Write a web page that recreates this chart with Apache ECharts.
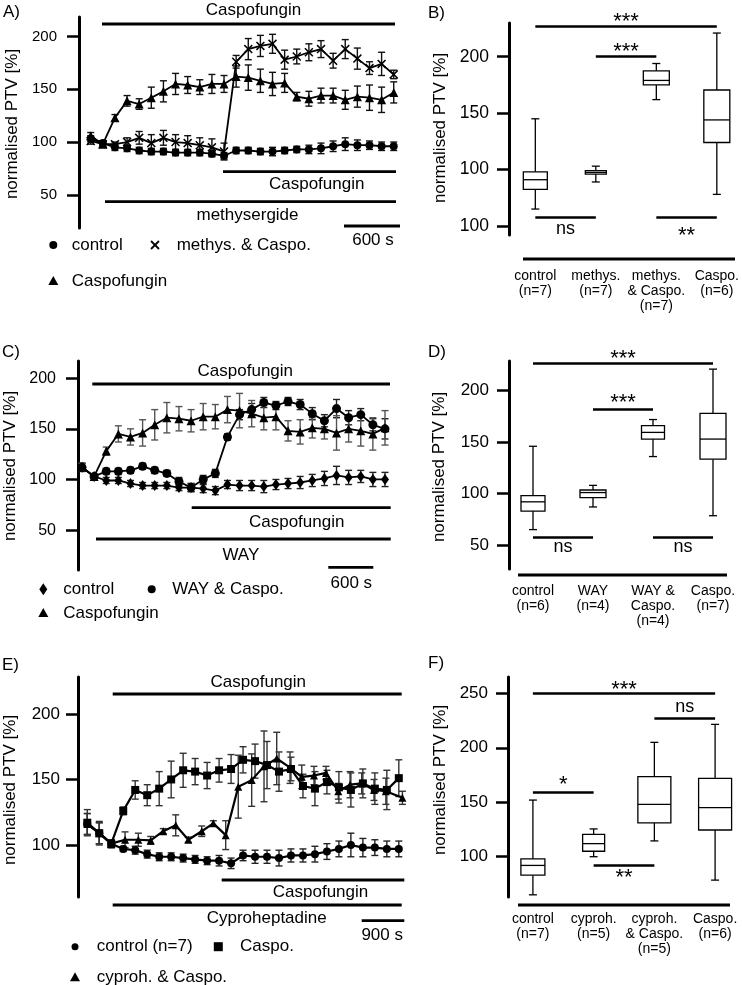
<!DOCTYPE html>
<html><head><meta charset="utf-8">
<script src="https://cdn.jsdelivr.net/npm/echarts@6/dist/echarts.min.js"></script>
<style>html,body{margin:0;padding:0;background:#fff}#c{width:742px;height:985px}</style>
</head><body><div id="c"></div>
<script>
// ---------------- Panel A (methysergide) ----------------
const aControl      = [103, 99, 95, 94, 92, 91, 91, 90, 90, 90, 89, 87, 92, 92, 91, 91, 92, 93, 93, 94, 96, 98, 97, 97, 96, 96];
const aControlErr   = [3, 2, 3, 3, 3, 3, 3, 3, 3, 3, 3, 3, 3, 3, 3, 4, 3, 3, 4, 5, 5, 6, 5, 4, 4, 4];
const aCaspo        = [106, 98, 123, 139, 136, 142, 148, 155, 154, 152, 155, 155, 162, 161, 158, 155, 156, 143, 141, 144, 144, 140, 143, 142, 140, 147];
const aCaspoErr     = [3, 2, 3, 5, 5, 10, 10, 10, 8, 7, 9, 8, 10, 12, 11, 11, 9, 4, 7, 7, 7, 9, 10, 12, 12, 10];
const aMethysCaspo  = [101, 98, 98, 100, 104, 99, 104, 100, 99, 97, 95, 91, 176, 188, 191, 193, 178, 181, 185, 188, 177, 188, 179, 170, 174, 164];
const aMethysCaspoErr = [3, 2, 2, 4, 6, 8, 7, 7, 7, 7, 8, 8, 6, 10, 10, 9, 9, 7, 8, 8, 7, 9, 10, 6, 11, 4];
const aTicks = [50, 100, 150, 200];

// ---------------- Panel B ----------------
const bCategories = ['control\n(n=7)', 'methys.\n(n=7)', 'methys.\n& Caspo.\n(n=7)', 'Caspo.\n(n=6)'];
// [min, Q1, median, Q3, max]
const bBoxes = [[65, 82.5, 91, 98, 145], [89, 96, 97.5, 99, 103], [162, 175, 179, 187.5, 194], [78, 124, 144, 170.5, 221]];
const bTicks = [50, 100, 150, 200];
const bTickLabels = ['100', '100', '150', '200'];

// ---------------- Panel C (WAY) ----------------
const cControl     = [112, 103, 99, 99, 96, 94, 94, 94, 92, 92, 91, 89, 95, 94, 94, 93, 95, 96, 97, 99, 101, 104, 102, 103, 100, 100];
const cControlErr  = [4, 2, 3, 3, 3, 3, 3, 3, 3, 4, 4, 4, 4, 5, 5, 6, 5, 5, 6, 6, 7, 9, 7, 6, 7, 7];
const cWayCaspo    = [112, 103, 108, 108, 109, 113, 109, 106, 98, 92, 100, 106, 142, 164, 169, 176, 173, 177, 174, 165, 158, 170, 161, 164, 154, 150];
const cWayCaspoErr = [4, 2, 3, 3, 3, 3, 3, 3, 4, 4, 4, 4, 3, 5, 6, 5, 4, 4, 5, 6, 6, 9, 7, 6, 6, 10];
const cCaspo       = [112, 103, 128, 145, 142, 146, 154, 161, 160, 158, 162, 162, 169, 168, 165, 161, 162, 148, 147, 151, 150, 146, 150, 148, 145, 151];
const cCaspoErr    = [4, 2, 4, 8, 8, 13, 15, 15, 12, 11, 13, 12, 13, 17, 13, 12, 13, 10, 12, 10, 10, 17, 13, 15, 16, 17];
const cTicks = [50, 100, 150, 200];

// ---------------- Panel D ----------------
const dCategories = ['control\n(n=6)', 'WAY\n(n=4)', 'WAY &\nCaspo.\n(n=4)', 'Caspo.\n(n=7)'];
const dBoxes = [[65, 83, 92, 98, 146], [87, 96, 101, 103.5, 108], [136, 153, 159.5, 166, 172], [78.5, 133.5, 153, 178, 221]];
const dTicks = [50, 100, 150, 200];

// ---------------- Panel E (cyproheptadine) ----------------
const eControl     = [116, 109, 101, 97, 96, 93, 91, 91, 90, 89, 88, 88, 86, 92, 91, 91, 90, 92, 92, 93, 95, 97, 100, 98, 98, 97, 97];
const eControlErr  = [8, 8, 3, 2, 3, 3, 3, 3, 3, 3, 3, 4, 4, 4, 5, 5, 6, 5, 5, 6, 6, 6, 9, 7, 6, 6, 6];
const eCaspo       = [117, 109, 101, 126, 142, 138, 143, 150, 157, 156, 153, 157, 158, 165, 164, 161, 156, 158, 145, 143, 148, 144, 142, 147, 143, 142, 151];
const eCaspoErr    = [10, 9, 3, 3, 7, 8, 13, 14, 13, 10, 10, 9, 11, 10, 13, 18, 15, 9, 9, 13, 9, 12, 13, 11, 12, 15, 14];
const eCyprohTime  = [0, 1, 2, 3.15, 4.26, 5.29, 6.34, 7.38, 8.43, 9.55, 10.52, 11.55, 12.6, 13.72, 14.75, 15.81, 16.92, 17.9, 18.92, 19.92, 20.95, 21.93, 22.9, 23.93, 24.92, 26.3];
const eCyproh      = [116, 109, 101, 104, 104, 103.5, 110.5, 115, 104, 110.5, 116.5, 107.5, 144.5, 149.5, 160, 166, 159, 152, 153, 155, 141, 146, 147, 142, 141, 136];
const eCyprohErr   = [8, 8, 3, 6, 5, 3, 2, 8, 2, 4, 2, 11, 24, 20, 27, 20, 12, 9, 7, 5, 6, 10, 8, 8, 10, 5];
const eTicks = [100, 150, 200];

// ---------------- Panel F ----------------
const fCategories = ['control\n(n=7)', 'cyproh.\n(n=5)', 'cyproh.\n& Caspo.\n(n=5)', 'Caspo.\n(n=6)'];
const fBoxes = [[65, 83, 92, 98, 152], [100, 105, 112, 120.5, 125.5], [114.5, 131, 148, 173.5, 205], [78.5, 124.5, 145, 172, 221.5]];
const fTicks = [100, 150, 200, 250];

// ---------------- significance annotations ----------------
const bSig = [
  {from: 0, to: 3, y: 227, text: '***', side: 'top', gap: 9},
  {from: 1, to: 2, y: 200, text: '***', side: 'top', gap: 10},
  {from: 0, to: 1, y: 58, text: 'ns', side: 'bottom', gap: 14},
  {from: 2, to: 3, y: 58, text: '**', side: 'bottom', gap: 14}
];
const dSig = [
  {from: 0, to: 3, y: 227, text: '***', side: 'top', gap: 9},
  {from: 1, to: 2, y: 182, text: '***', side: 'top', gap: 11},
  {from: 0, to: 1, y: 58, text: 'ns', side: 'bottom', gap: 12},
  {from: 2, to: 3, y: 58, text: 'ns', side: 'bottom', gap: 12}
];
const fSig = [
  {from: 0, to: 3, y: 250, text: '***', side: 'top', gap: 8},
  {from: 2, to: 3, y: 227, text: 'ns', side: 'top', gap: 10},
  {from: 0, to: 1, y: 159, text: '*', side: 'top', gap: 12},
  {from: 1, to: 2, y: 92, text: '**', side: 'bottom', gap: 8}
];

// ======================================================
const FF = '"Liberation Sans", Arial, Helvetica, sans-serif';
const chart = echarts.init(document.getElementById('c'), null, {renderer: 'canvas'});
const idx = arr => arr.map((_, i) => i);
const CROSS = 'path://M0,1.2L1.2,0L5,3.8L8.8,0L10,1.2L6.2,5L10,8.8L8.8,10L5,6.2L1.2,10L0,8.8L3.8,5Z';

function yAx(gi, min, max, ticks, fs, margin, labels) {
  return {
    gridIndex: gi, type: 'value', min: min, max: max,
    axisLine: {show: true, onZero: false, lineStyle: {color: '#000', width: 3}},
    axisTick: {show: true, length: 12, customValues: ticks, lineStyle: {color: '#000', width: 2.5}},
    axisLabel: {customValues: ticks, fontSize: fs, fontFamily: FF, color: '#000', margin: margin,
      formatter: v => labels ? labels[ticks.indexOf(v)] : String(v)},
    splitLine: {show: false}
  };
}
function xLine(gi, min, max) {
  return {gridIndex: gi, type: 'value', min: min, max: max, show: false};
}
function xCat(gi, min, max, cats, margin) {
  return {
    gridIndex: gi, type: 'value', min: min, max: max,
    axisLine: {show: false}, axisTick: {show: false}, splitLine: {show: false},
    axisLabel: {customValues: [0, 1, 2, 3], formatter: v => cats[Math.round(v)],
      fontSize: 14, lineHeight: 15, margin: margin, color: '#000', fontFamily: FF}
  };
}
function lineS(gi, xs, ys, symbol, size, lw) {
  return {type: 'line', xAxisIndex: gi, yAxisIndex: gi, data: xs.map((x, i) => [x, ys[i]]),
    symbol: symbol, symbolSize: size, showSymbol: true, silent: true, animation: false, z: 5,
    lineStyle: {color: '#000', width: lw}, itemStyle: {color: '#000', borderWidth: 0}};
}
function errS(gi, xs, ys, es, color) {
  return {type: 'custom', xAxisIndex: gi, yAxisIndex: gi, silent: true, animation: false, z: 3,
    data: xs.map((x, i) => [x, ys[i] - es[i], ys[i] + es[i]]),
    encode: {x: 0, y: [1, 2]},
    renderItem: function (params, api) {
      const x = api.value(0);
      const lo = api.coord([x, api.value(1)]), hi = api.coord([x, api.value(2)]);
      const w = 3.5, st = {stroke: color, lineWidth: 1.4};
      return {type: 'group', children: [
        {type: 'line', shape: {x1: lo[0], y1: lo[1], x2: hi[0], y2: hi[1]}, style: st},
        {type: 'line', shape: {x1: lo[0] - w, y1: lo[1], x2: lo[0] + w, y2: lo[1]}, style: st},
        {type: 'line', shape: {x1: hi[0] - w, y1: hi[1], x2: hi[0] + w, y2: hi[1]}, style: st}
      ]};
    }};
}
function sigData(sig) {
  const LH = 10;
  return sig.map(s => {
    const ast = s.text.indexOf('*') >= 0;
    const fs = ast ? 22 : 18;
    const shift = ast ? 4.9 : -1.5;   // glyph centre relative to em-middle
    let d;
    if (s.side === 'top') d = s.gap - LH / 2 - shift;
    else d = s.gap - LH / 2 + shift;
    return [{coord: [s.from, s.y], label: {show: true, formatter: s.text,
        position: s.side === 'top' ? 'insideMiddleTop' : 'insideMiddleBottom', distance: d,
        fontSize: fs, lineHeight: LH, color: '#000', fontFamily: FF}},
      {coord: [s.to, s.y]}];
  });
}
function boxS(gi, boxes, widths, sig) {
  return {type: 'custom', xAxisIndex: gi, yAxisIndex: gi, silent: true, animation: false, z: 4,
    data: boxes.map((b, i) => [i].concat(b)),
    encode: {x: 0, y: [1, 2, 3, 4, 5]},
    renderItem: function (params, api) {
      const x = api.value(0);
      const pMin = api.coord([x, api.value(1)]), pQ1 = api.coord([x, api.value(2)]),
            pMed = api.coord([x, api.value(3)]), pQ3 = api.coord([x, api.value(4)]),
            pMax = api.coord([x, api.value(5)]);
      const cx = pMed[0], w = widths[params.dataIndex], hw = w / 2, cap = 4;
      const st = {stroke: '#000', lineWidth: 1.3};
      return {type: 'group', children: [
        {type: 'line', shape: {x1: cx, y1: pMax[1], x2: cx, y2: pQ3[1]}, style: st},
        {type: 'line', shape: {x1: cx, y1: pQ1[1], x2: cx, y2: pMin[1]}, style: st},
        {type: 'line', shape: {x1: cx - cap, y1: pMax[1], x2: cx + cap, y2: pMax[1]}, style: st},
        {type: 'line', shape: {x1: cx - cap, y1: pMin[1], x2: cx + cap, y2: pMin[1]}, style: st},
        {type: 'rect', shape: {x: cx - hw, y: pQ3[1], width: w, height: pQ1[1] - pQ3[1]},
          style: {stroke: '#000', lineWidth: 1.3, fill: '#fff'}},
        {type: 'line', shape: {x1: cx - hw, y1: pMed[1], x2: cx + hw, y2: pMed[1]}, style: st}
      ]};
    },
    markLine: {silent: true, animation: false, symbol: ['none', 'none'],
      lineStyle: {color: '#000', width: 2.6, type: 'solid'}, data: sigData(sig)}
  };
}

// ---------- graphic helpers ----------
function T(text, x, y, o) {
  o = o || {};
  return {type: 'text', x: x, y: y, rotation: o.rot || 0, silent: true,
    style: {text: text, fontSize: o.fs || 17, fontFamily: FF, fill: '#000',
      align: o.align || 'center', verticalAlign: 'middle'}};
}
function L(x1, y1, x2, y2, w) {
  return {type: 'line', silent: true, shape: {x1: x1, y1: y1, x2: x2, y2: y2}, style: {stroke: '#000', lineWidth: w || 2.8}};
}
function dot(x, y, r) { return {type: 'circle', silent: true, shape: {cx: x, cy: y, r: r || 4}, style: {fill: '#000'}}; }
function tri(x, y, s) { s = s || 5; return {type: 'polygon', silent: true, shape: {points: [[x, y - s], [x + s, y + s * 0.8], [x - s, y + s * 0.8]]}, style: {fill: '#000'}}; }
function dia(x, y) { return {type: 'polygon', silent: true, shape: {points: [[x, y - 6], [x + 4, y], [x, y + 6], [x - 4, y]]}, style: {fill: '#000'}}; }
function sq(x, y) { return {type: 'rect', silent: true, shape: {x: x - 4.5, y: y - 4.5, width: 9, height: 9}, style: {fill: '#000'}}; }
function crs(x, y) { return {type: 'group', silent: true, children: [L(x - 4, y - 4, x + 4, y + 4, 1.8), L(x - 4, y + 4, x + 4, y - 4, 1.8)]}; }

const graphics = [
  // panel letters
  T('A)', 3, 12, {align: 'left'}), T('B)', 428, 13, {align: 'left'}),
  T('C)', 2, 352, {align: 'left'}), T('D)', 428, 352, {align: 'left'}),
  T('E)', 2, 665, {align: 'left'}), T('F)', 428, 663, {align: 'left'}),
  // axis names
  T('normalised PTV [%]', 12, 124, {rot: Math.PI / 2}),
  T('normalised PTV [%]', 440, 128, {rot: Math.PI / 2}),
  T('normalised PTV [%]', 10, 466, {rot: Math.PI / 2}),
  T('normalised PTV [%]', 439, 467, {rot: Math.PI / 2}),
  T('normalised PTV [%]', 10, 790, {rot: Math.PI / 2}),
  T('normalised PTV [%]', 440, 780, {rot: Math.PI / 2}),
  // panel A annotations
  T('Caspofungin', 253.5, 10), L(102, 24, 395, 24),
  L(223, 171.7, 396, 171.7), T('Caspofungin', 316.7, 184),
  L(105, 201.7, 396, 201.7), T('methysergide', 247.5, 215.5),
  L(344, 226, 400, 226), T('600 s', 373, 240.5),
  dot(53.3, 245), T('control', 71.7, 245, {align: 'left'}),
  crs(155, 245), T('methys. & Caspo.', 176.7, 245, {align: 'left'}),
  tri(53.3, 281), T('Caspofungin', 71.7, 281, {align: 'left'}),
  // panel B
  L(523, 259, 735, 259),
  // panel C annotations
  T('Caspofungin', 245.3, 371), L(92.3, 384, 390, 384),
  L(191.7, 507.7, 390.7, 507.7), T('Caspofungin', 296.7, 522.3),
  L(96, 539, 390.7, 539), T('WAY', 240.8, 555),
  L(328.3, 567.3, 373.3, 567.3), T('600 s', 351.3, 583.3),
  dia(43.3, 589.3), T('control', 63.3, 589.3, {align: 'left'}),
  dot(151.7, 589.3), T('WAY & Caspo.', 172.3, 589.3, {align: 'left'}),
  tri(43.3, 613), T('Caspofungin', 63.3, 613, {align: 'left'}),
  // panel D
  L(518, 575, 727, 575),
  // panel E annotations
  T('Caspofungin', 258.3, 682.7), L(112.7, 694, 401.7, 694),
  L(221.7, 880, 404.3, 880), T('Caspofungin', 320.5, 892.3),
  L(112.7, 905, 401.7, 905), T('Cyproheptadine', 266.7, 918.3),
  L(361.7, 920.7, 404.3, 920.7), T('900 s', 382.2, 935),
  dot(75, 946.7, 3.5), T('control (n=7)', 96.7, 946.7, {align: 'left'}),
  sq(218.3, 946.7), T('Caspo.', 240, 946.7, {align: 'left'}),
  tri(75, 977.3), T('cyproh. & Caspo.', 96.7, 977.3, {align: 'left'}),
  // panel F
  L(518, 905, 730, 905)
];

const option = {
  backgroundColor: '#fff',
  animation: false,
  grid: [
    {left: 79, top: 17, width: 326, height: 211},
    {left: 509, top: 23, width: 231, height: 212},
    {left: 78, top: 361, width: 319, height: 209},
    {left: 509, top: 361, width: 231, height: 208},
    {left: 78, top: 677, width: 328, height: 220},
    {left: 508, top: 677, width: 232, height: 220}
  ],
  xAxis: [
    xLine(0, -0.965, 25.93),
    xCat(1, -0.435, 3.29, bCategories, 34),
    xLine(2, -0.33, 25.99),
    xCat(3, -0.4, 3.45, dCategories, 15),
    xLine(4, -0.776, 26.6),
    xCat(5, -0.41, 3.41, fCategories, 15)
  ],
  yAxis: [
    yAx(0, 18.6, 218.4, aTicks, 15, 22),
    yAx(1, 42, 229.9, bTicks, 17.5, 20, bTickLabels),
    yAx(2, 10.6, 217, cTicks, 16, 22),
    yAx(3, 26.7, 228.9, dTicks, 17, 20),
    yAx(4, 60.3, 228.2, eTicks, 17, 18),
    yAx(5, 63, 265, fTicks, 17, 20)
  ],
  series: [
    // A
    errS(0, idx(aControl), aControl, aControlErr, '#111'),
    errS(0, idx(aCaspo), aCaspo, aCaspoErr, '#111'),
    errS(0, idx(aMethysCaspo), aMethysCaspo, aMethysCaspoErr, '#111'),
    lineS(0, idx(aControl), aControl, 'circle', 8, 1.8),
    lineS(0, idx(aCaspo), aCaspo, 'triangle', 9, 1.8),
    lineS(0, idx(aMethysCaspo), aMethysCaspo, CROSS, 9, 1.8),
    // B
    boxS(1, bBoxes, [24, 21, 26, 26], bSig),
    // C
    errS(2, idx(cControl), cControl, cControlErr, '#222'),
    errS(2, idx(cWayCaspo), cWayCaspo, cWayCaspoErr, '#222'),
    errS(2, idx(cCaspo), cCaspo, cCaspoErr, '#555'),
    lineS(2, idx(cControl), cControl, 'diamond', [8, 11], 1.8),
    lineS(2, idx(cWayCaspo), cWayCaspo, 'circle', 9, 1.8),
    lineS(2, idx(cCaspo), cCaspo, 'triangle', 9, 1.8),
    // D
    boxS(3, dBoxes, [24, 26, 23, 26], dSig),
    // E
    errS(4, idx(eControl), eControl, eControlErr, '#222'),
    errS(4, idx(eCaspo), eCaspo, eCaspoErr, '#333'),
    errS(4, eCyprohTime, eCyproh, eCyprohErr, '#333'),
    lineS(4, idx(eControl), eControl, 'circle', 8, 2.2),
    lineS(4, idx(eCaspo), eCaspo, 'rect', 8, 2.2),
    lineS(4, eCyprohTime, eCyproh, 'triangle', 8, 2.2),
    // F
    boxS(5, fBoxes, [24, 22, 33, 33], fSig)
  ],
  graphic: graphics
};
chart.setOption(option);
</script>
</body></html>
